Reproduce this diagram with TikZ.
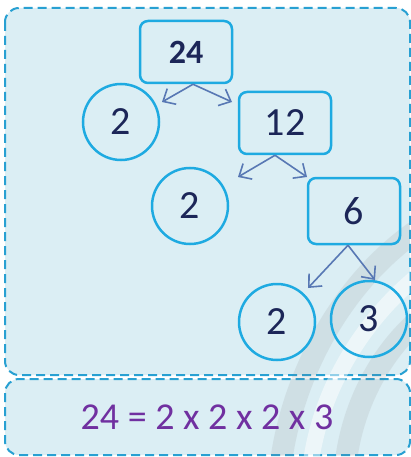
\documentclass[tikz,border=0pt]{standalone}
\usepackage{fontspec}
\setmainfont{Carlito}
\usetikzlibrary{arrows.meta}
\definecolor{bgfill}{RGB}{219,238,244}
\definecolor{dashc}{RGB}{40,160,210}
\definecolor{nodec}{RGB}{30,170,225}
\definecolor{txtc}{RGB}{28,38,88}
\definecolor{arrc}{RGB}{88,120,180}
\definecolor{purp}{RGB}{112,48,160}
\begin{document}
\begin{tikzpicture}[x=1pt,y=-1pt,
  panel/.style={draw=dashc, dash pattern=on 9pt off 5pt, line width=2pt, fill=bgfill, rounded corners=14pt},
  numbox/.style={draw=nodec, line width=2.5pt, rounded corners=8pt, minimum width=92pt, minimum height=62pt, inner sep=0pt, text=txtc, font=\fontsize{40}{40}\selectfont},
  numcirc/.style={draw=nodec, line width=2.5pt, circle, minimum size=76pt, inner sep=0pt, text=txtc, font=\fontsize{40}{40}\selectfont},
  band/.style={line width=22pt, line cap=round},
  arr/.style={draw=arrc, line width=1.6pt, -{Straight Barb[length=10pt,width=18pt,line width=1.6pt]}}]
\useasboundingbox (0,0) rectangle (411,457);
\fill[white] (0,0) rectangle (411,457);
\path[panel] (5,8) rectangle (410,375);
\path[panel] (5,379) rectangle (410,455);
% decorative bands
\begin{scope}
  \clip (5,8) rectangle (410,455);
  \draw[band, gray, opacity=0.13] (280,470) .. controls (290,380) and (340,280) .. (425,225);
  \draw[band, white, opacity=0.5, line width=16pt] (310,470) .. controls (318,395) and (360,320) .. (425,270);
  \draw[band, gray, opacity=0.13] (345,470) .. controls (350,410) and (380,350) .. (425,315);
\end{scope}
% nodes
\node[numbox, font=\bfseries\fontsize{34}{34}\selectfont] (n24) at (186,52) {24};
\node[numcirc] (c2a) at (121,122) {2};
\node[numbox] (n12) at (285,123) {12};
\node[numcirc] (c2b) at (190,206) {2};
\node[numbox, minimum height=66pt] (n6) at (354,211) {6};
\node[numcirc] (c2c) at (277,322) {2};
\node[numcirc] (c3) at (369,319) {3};
\node[text=purp, font=\fontsize{38}{38}\selectfont] (eq) at (207,417) {24 = 2 x 2 x 2 x 3};
% connector end points
\coordinate (t24l) at (162,102);
\coordinate (t24r) at (232,102);
\coordinate (t12l) at (238,177);
\coordinate (t12r) at (307,177);
\coordinate (t6l) at (308,288);
\coordinate (t6r) at (375,280);
% arrows
\draw[arr] ([xshift=7pt]n24.south) -- (t24l);
\draw[arr] ([xshift=7pt]n24.south) -- (t24r);
\draw[arr] ([xshift=-10pt]n12.south) -- (t12l);
\draw[arr] ([xshift=-10pt]n12.south) -- (t12r);
\draw[arr] ([xshift=-6pt]n6.south) -- (t6l);
\draw[arr] ([xshift=-6pt]n6.south) -- (t6r);
\end{tikzpicture}
\end{document}
